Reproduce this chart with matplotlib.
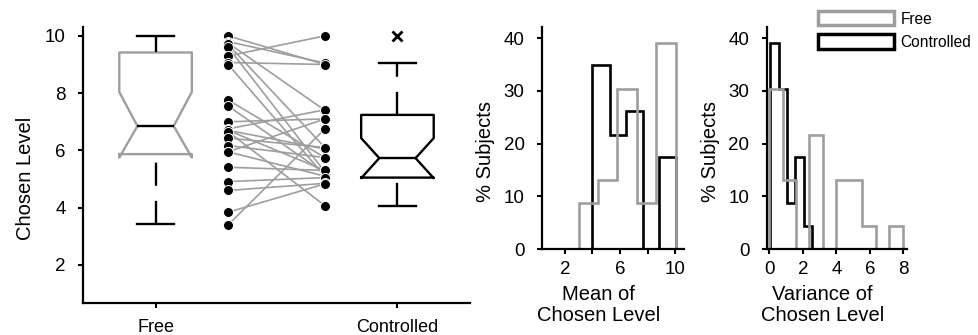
import matplotlib
matplotlib.use("Agg")
import matplotlib.pyplot as plt
from matplotlib.patches import Patch

plt.rcParams['font.family'] = ['Liberation Sans', 'DejaVu Sans']

GRAY = '#9e9e9e'

# paired per-subject levels (Free -> Controlled)
free_levels = [10.0, 9.8, 9.75, 9.7, 9.6, 9.3, 9.07, 9.0, 7.76, 7.55, 7.0, 6.75,
               6.7, 6.7, 6.65, 6.43, 6.17, 5.95, 5.95, 5.41, 4.91, 4.6, 3.84, 3.4]
ctrl_levels = [9.0, 9.05, 7.4, 6.1, 5.25, 10.0, 9.0, 5.1, 5.75, 5.2, 7.1, 7.42,
               6.05, 5.3, 4.07, 6.1, 5.75, 7.1, 5.1, 5.3, 5.05, 4.85, 4.83, 6.75]

# box statistics
box_labels = ['Free', 'Controlled']
box_med = [6.85, 5.73]
box_q1 = [5.87, 5.05]
box_q3 = [9.42, 7.24]
box_cilo = [5.75, 5.03]
box_cihi = [8.04, 6.43]
box_whislo = [3.43, 4.05]
box_whishi = [10.0, 9.05]
box_fliers = [[], [10.0]]

# histograms (% subjects)
mean_free_edges = [3.0, 4.4, 5.8, 7.22, 8.65, 10.05]
mean_free_pct = [8.7, 13.0, 30.4, 8.7, 39.1]
mean_ctrl_edges = [4.0, 5.25, 6.45, 7.7, 8.85, 10.05]
mean_ctrl_pct = [34.8, 21.7, 26.1, 0.0, 17.4]

var_free_edges = [0.0, 0.8, 1.6, 2.39, 3.19, 3.95, 4.75, 5.55, 6.35, 7.15, 7.95]
var_free_pct = [30.4, 13.0, 0.0, 21.7, 0.0, 13.0, 13.0, 4.35, 0.0, 4.35]
var_ctrl_edges = [0.05, 0.6, 1.05, 1.55, 2.07, 2.55]
var_ctrl_pct = [39.1, 30.4, 8.7, 17.4, 4.35]

W, H = 979, 335
fig = plt.figure(figsize=(W / 100, H / 100), dpi=100)


def style_axes(ax):
    for s in ['top', 'right']:
        ax.spines[s].set_visible(False)
    for s in ['left', 'bottom']:
        ax.spines[s].set_linewidth(1.6)
    ax.tick_params(direction='out', length=3.5, width=1.5, labelsize=13.5)
    ax.tick_params(axis='y', pad=9)


# ---- left panel: notched boxes + paired lines
ax1 = fig.add_axes([83 / W, 32 / H, 387 / W, 276 / H])
style_axes(ax1)
ax1.tick_params(axis='x', pad=8, labelsize=13)

stats = []
for i in range(2):
    stats.append(dict(label=box_labels[i], med=box_med[i], q1=box_q1[i], q3=box_q3[i],
                      cilo=box_cilo[i], cihi=box_cihi[i], whislo=box_whislo[i],
                      whishi=box_whishi[i], fliers=box_fliers[i]))

lw = 1.7
res = ax1.bxp(stats, positions=[1, 2], widths=0.3, shownotches=True,
              boxprops=dict(color='k', linewidth=lw),
              medianprops=dict(color='k', linewidth=lw),
              whiskerprops=dict(color='k', linewidth=lw, linestyle=(0, (9.8, 6.4))),
              capprops=dict(color='k', linewidth=lw),
              flierprops=dict(marker='x', markeredgecolor='k', markersize=6.5, markeredgewidth=2))
res['boxes'][0].set_color(GRAY)
# draw every whisker from its lower end upward
for ln in res['whiskers']:
    x, y = ln.get_data()
    if y[0] > y[1]:
        ln.set_data(x[::-1], y[::-1])

for f, c in zip(free_levels, ctrl_levels):
    ax1.plot([1.3, 1.7], [f, c], color=GRAY, lw=1.2, zorder=2)
ax1.plot([1.3] * len(free_levels), free_levels, 'o', ms=7.2, mfc='k', mec='white', mew=0.7, zorder=3)
ax1.plot([1.7] * len(ctrl_levels), ctrl_levels, 'o', ms=7.2, mfc='k', mec='white', mew=0.7, zorder=3)

ax1.set_xlim(0.7, 2.3)
ax1.set_ylim(0.67, 10.31)
ax1.set_yticks([2, 4, 6, 8, 10])
ax1.set_xticks([1, 2])
ax1.set_xticklabels(box_labels)
ax1.set_ylabel('Chosen Level', fontsize=14.5)
ax1.yaxis.set_label_coords(-0.125, 0.45)

# ---- histograms
ax2 = fig.add_axes([542 / W, 86 / H, 142 / W, 222 / H])
ax3 = fig.add_axes([766.7 / W, 86 / H, 140 / W, 222 / H])
for ax in (ax2, ax3):
    style_axes(ax)
    ax.tick_params(axis='x', pad=5)
    ax.set_ylim(0, 42.1)
    ax.set_yticks([0, 10, 20, 30, 40])
    ax.set_ylabel('% Subjects', fontsize=14.5)
    ax.yaxis.set_label_coords(-0.33, 0.44)

ax2.stairs(mean_ctrl_pct, mean_ctrl_edges, baseline=0, fill=False, edgecolor='k', linewidth=1.9)
ax2.stairs(mean_free_pct, mean_free_edges, baseline=0, fill=False, edgecolor=GRAY, linewidth=1.9)
ax2.set_xlim(0.33, 10.65)
ax2.set_xticks([2, 4, 6, 8, 10])
ax2.set_xticklabels(['2', '', '6', '', '10'])
ax2.set_xlabel('Mean of\nChosen Level', fontsize=14.5, linespacing=1.15)
ax2.xaxis.set_label_coords(0.40, -0.16)

ax3.stairs(var_ctrl_pct, var_ctrl_edges, baseline=0, fill=False, edgecolor='k', linewidth=1.9)
ax3.stairs(var_free_pct, var_free_edges, baseline=0, fill=False, edgecolor=GRAY, linewidth=1.9)
ax3.set_xlim(-0.16, 8.2)
ax3.set_xticks([0, 2, 4, 6, 8])
ax3.set_xlabel('Variance of\nChosen Level', fontsize=14.5, linespacing=1.15)
ax3.xaxis.set_label_coords(0.40, -0.16)

handles = [Patch(facecolor='none', edgecolor=GRAY, linewidth=2.5),
           Patch(facecolor='none', edgecolor='k', linewidth=2.5)]
fig.legend(handles, ['Free', 'Controlled'], loc='upper left',
           bbox_to_anchor=(818 / W, 1 - 11 / H), frameon=False, fontsize=11.2,
           handlelength=4.9, handleheight=1.05, handletextpad=0.4,
           labelspacing=0.5, borderpad=0, borderaxespad=0)

fig.savefig('out.png', dpi=100)
